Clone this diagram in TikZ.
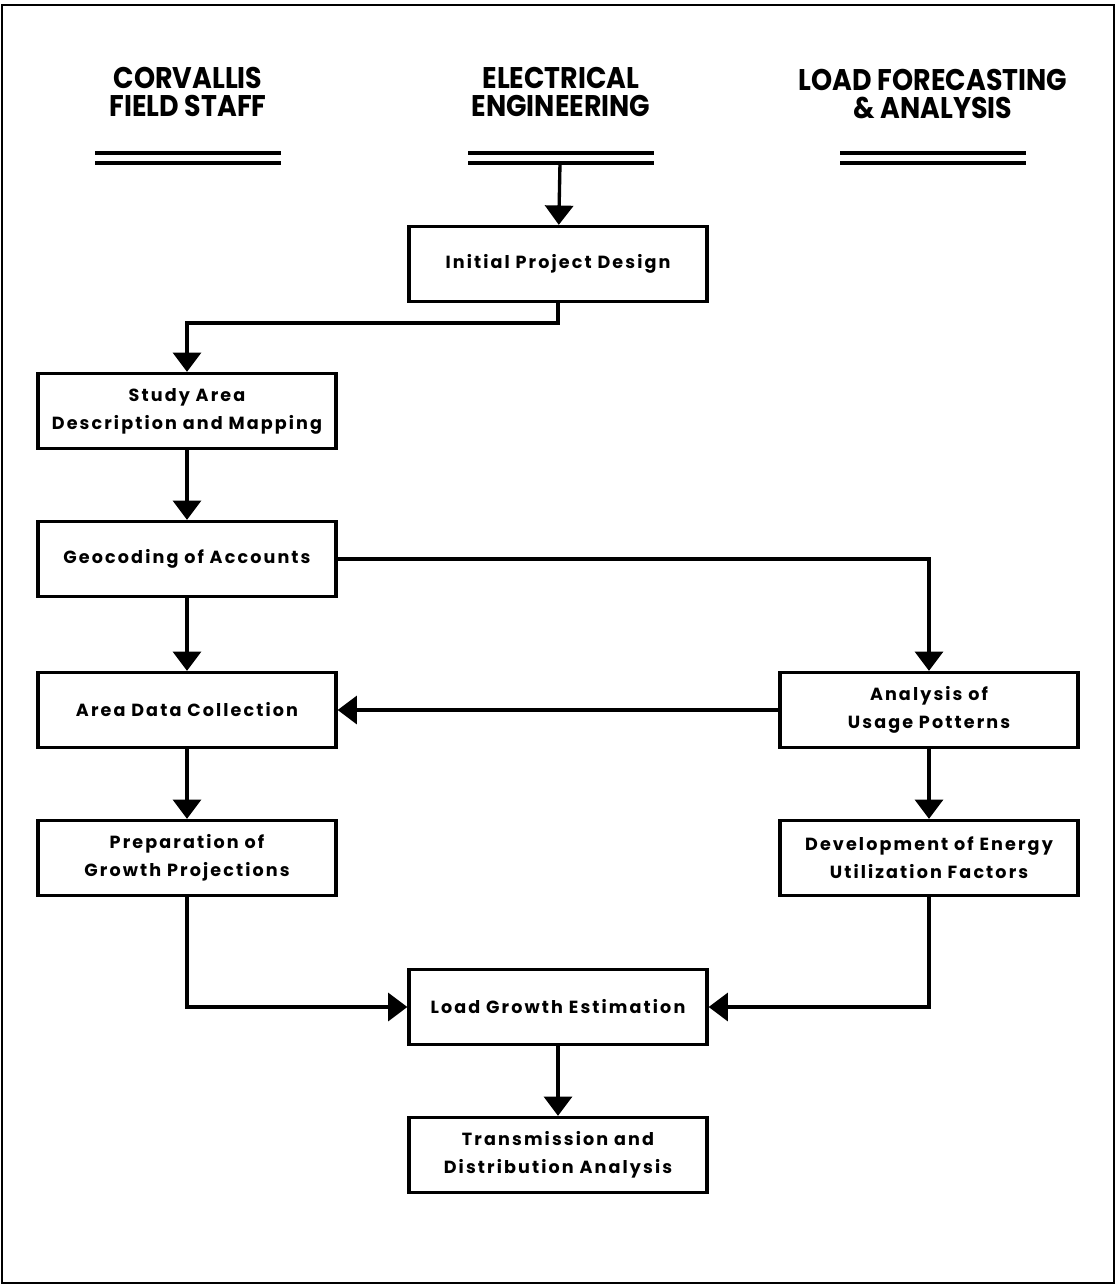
\documentclass[tikz,border=0pt]{standalone}
\usepackage{fontspec}
\setmainfont{Poppins}[LetterSpace=12]
\newfontfamily\headfont[FakeStretch=0.9]{Poppins}
\usetikzlibrary{arrows.meta}

\begin{document}
\begin{tikzpicture}[x=0.02cm, y=-0.02cm,
    box/.style={draw, line width=1.9pt, minimum width=5.96cm, minimum height=1.5cm,
        align=center, font=\bfseries\fontsize{10}{15.9}\selectfont},
    head/.style={align=center, font=\headfont\bfseries\fontsize{17}{15.9}\selectfont},
    flow/.style={-{Triangle[width=16pt,length=11pt]}, line width=1.9pt}]
    \useasboundingbox (0,0) rectangle (1118,1285);
    \draw [line width=1.1pt] (2,5) rectangle (1114,1283);
    % column headings
    \node [head] (hcorv) at (188,92) {CORVALLIS\\FIELD STAFF};
    \node [head] (helec) at (561,92) {ELECTRICAL\\ENGINEERING};
    \node [head] (hload) at (933,94) {LOAD FORECASTING\\\& ANALYSIS};
    \foreach \cx in {188,561,933} {
        \draw [line width=2pt] (\cx-93,153) -- (\cx+93,153);
        \draw [line width=2pt] (\cx-93,163) -- (\cx+93,163);
    }
    \coordinate (elec) at (560,163);
    % boxes
    \node [box] (init) at (558,264) {Initial Project Design};
    \node [box] (study) at (187,411) {Study Area\\Description and Mapping};
    \node [box] (geo) at (187,559) {Geocoding of Accounts};
    \node [box] (area) at (187,710) {Area Data Collection};
    \node [box] (growth) at (187,858) {Preparation of\\Growth Projections};
    \node [box] (usage) at (929,710) {Analysis of\\Usage Potterns};
    \node [box] (energy) at (929,858) {Development of Energy\\Utilization Factors};
    \node [box] (load) at (558,1007) {Load Growth Estimation};
    \node [box] (trans) at (558,1155) {Transmission and\\Distribution Analysis};
    % connectors
    \draw [flow] (elec) -- (init);
    \draw [flow] (init.south) -- ++(0,20) -| (study.north);
    \draw [flow] (study) -- (geo);
    \draw [flow] (geo.east) -| (usage.north);
    \draw [flow] (geo) -- (area);
    \draw [flow] (usage) -- (area);
    \draw [flow] (area) -- (growth);
    \draw [flow] (usage) -- (energy);
    \draw [flow] (growth.south) |- (load.west);
    \draw [flow] (energy.south) |- (load.east);
    \draw [flow] (load) -- (trans);
\end{tikzpicture}
\end{document}
